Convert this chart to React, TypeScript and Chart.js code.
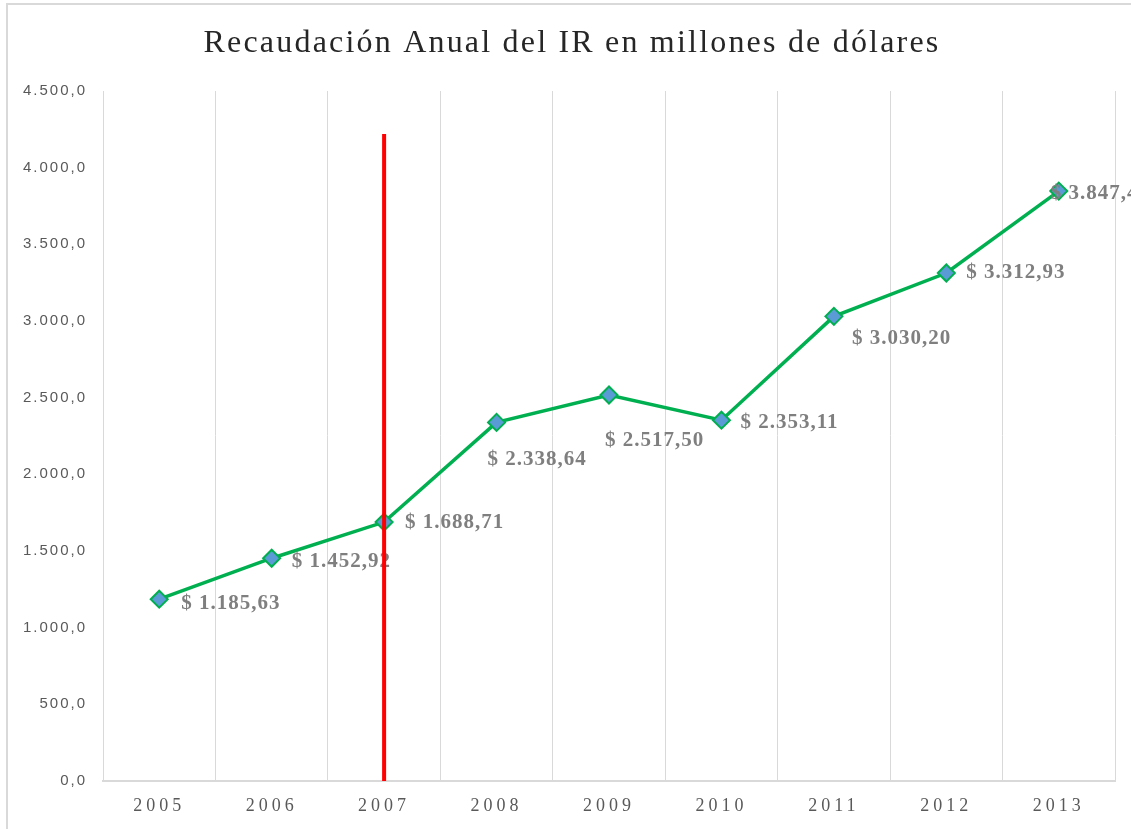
import React, { useEffect, useRef } from "react";
import { Chart, registerables } from "chart.js";

Chart.register(...registerables);

const titleText = "Recaudación Anual del IR en millones de dólares";
const years = ["2005", "2006", "2007", "2008", "2009", "2010", "2011", "2012", "2013"];
const revenue = [1185.63, 1452.92, 1688.71, 2338.64, 2517.5, 2353.11, 3030.2, 3312.93, 3847.44];
const redLineYears = ["2007", "2007"];
const redLineValues = [4220, 0];
const yMin = 0;
const yMax = 4500;
const yStep = 500;

function fmtNum(v: number, decimals: number): string {
  const s = Math.abs(v).toFixed(decimals);
  const [i, d] = s.split(".");
  const intPart = i.replace(/\B(?=(\d{3})+(?!\d))/g, ".");
  return (v < 0 ? "-" : "") + intPart + (d !== undefined ? "," + d : "");
}

const spacingPlugin = {
  id: "spacingPatch",
  beforeDraw(chart: any) {
    const ctx = chart.ctx;
    const patch = (scale: any, spacing: string) => {
      if (!scale || scale._spPatched) return;
      const orig = scale.drawLabels.bind(scale);
      scale.drawLabels = (area: any) => {
        ctx.save();
        (ctx as any).letterSpacing = spacing;
        orig(area);
        ctx.restore();
      };
      scale._spPatched = true;
    };
    patch(chart.scales.x, "4px");
    patch(chart.scales.y, "2px");
  },
};

const titlePlugin = {
  id: "customTitle",
  afterDraw(chart: any, _args: any, opts: any) {
    const ctx = chart.ctx;
    ctx.save();
    (ctx as any).letterSpacing = "2.2px";
    ctx.font = "32px 'Liberation Serif', 'Times New Roman', serif";
    ctx.fillStyle = "#262626";
    ctx.textAlign = "center";
    ctx.textBaseline = "middle";
    ctx.fillText(opts.text, opts.x, opts.y);
    ctx.restore();
  },
};

const labelPlugin = {
  id: "pointLabels",
  afterDatasetDraw(chart: any, args: any, opts: any) {
    if (args.index !== 0) return;
    const ctx = chart.ctx;
    const meta = chart.getDatasetMeta(0);
    const data = chart.data.datasets[0].data as number[];
    ctx.save();
    (ctx as any).letterSpacing = "1px";
    ctx.font = "bold 21px 'Liberation Serif', 'Times New Roman', serif";
    ctx.fillStyle = "#7f7f7f";
    ctx.textAlign = "left";
    ctx.textBaseline = "middle";
    meta.data.forEach((pt: any, i: number) => {
      const off = opts.offsets[i] || [20, 2];
      ctx.fillText("$ " + fmtNum(data[i], 2), pt.x + off[0], pt.y + off[1]);
    });
    ctx.restore();
  },
};

export default function App() {
  const ref = useRef<HTMLCanvasElement | null>(null);

  useEffect(() => {
    if (!ref.current) return;
    const chart = new Chart(ref.current, {
      type: "line",
      data: {
        labels: years,
        datasets: [
          {
            label: "Recaudación IR",
            data: revenue,
            borderColor: "#00b050",
            borderWidth: 3.5,
            tension: 0,
            pointStyle: "rectRot",
            pointRadius: 8.5,
            pointBackgroundColor: "#5b9bd5",
            pointBorderColor: "#00b050",
            pointBorderWidth: 2,
            order: 1,
          },
          {
            label: "2007",
            data: redLineYears.map((x, i) => ({ x, y: redLineValues[i] })) as any,
            borderColor: "#ff0000",
            borderWidth: 4,
            pointRadius: 0,
            order: 0,
          },
        ],
      },
      options: {
        responsive: false,
        animation: false,
        devicePixelRatio: 1,
        layout: { padding: { left: 8, top: 91, right: 16, bottom: 8 } },
        plugins: {
          legend: { display: false },
          tooltip: { enabled: false },
          title: { display: false },
          customTitle: { text: titleText, x: 572, y: 44 },
          pointLabels: {
            offsets: [
              [22, 4],
              [20, 3],
              [21, 1],
              [-9, 37],
              [-4, 46],
              [19, 2],
              [18, 22],
              [20, 0],
              [-8, 3],
            ],
          },
        } as any,
        scales: {
          x: {
            type: "category",
            offset: true,
            grid: { display: true, offset: true, color: "#d9d9d9", lineWidth: 1, drawTicks: false },
            border: { display: true, color: "#d9d9d9", width: 2 },
            ticks: {
              color: "#595959",
              font: { family: "'Liberation Serif', 'Times New Roman', serif", size: 18 },
              padding: 14,
              maxRotation: 0,
            },
            afterFit: (s: any) => {
              s.height = 40;
            },
          },
          y: {
            min: yMin,
            max: yMax,
            grid: { display: false, drawTicks: false },
            border: { display: true, color: "#d9d9d9", width: 1 },
            ticks: {
              stepSize: yStep,
              color: "#595959",
              font: { family: "'Liberation Sans', Arial, sans-serif", size: 15 },
              padding: 16,
              callback: (v: any) => fmtNum(Number(v), 1),
            },
            afterFit: (s: any) => {
              s.width = 95;
            },
          },
        },
      },
      plugins: [spacingPlugin, titlePlugin, labelPlugin],
    });
    return () => chart.destroy();
  }, []);

  return (
    <div
      style={{
        position: "fixed",
        left: 0,
        top: 0,
        width: 1131,
        height: 829,
        overflow: "hidden",
        background: "#ffffff",
      }}
    >
      <div
        style={{
          position: "absolute",
          left: 6,
          top: 3,
          width: 1200,
          height: 900,
          border: "2px solid #d9d9d9",
        }}
      />
      <canvas ref={ref} width={1131} height={829} style={{ position: "absolute", left: 0, top: 0 }} />
    </div>
  );
}
